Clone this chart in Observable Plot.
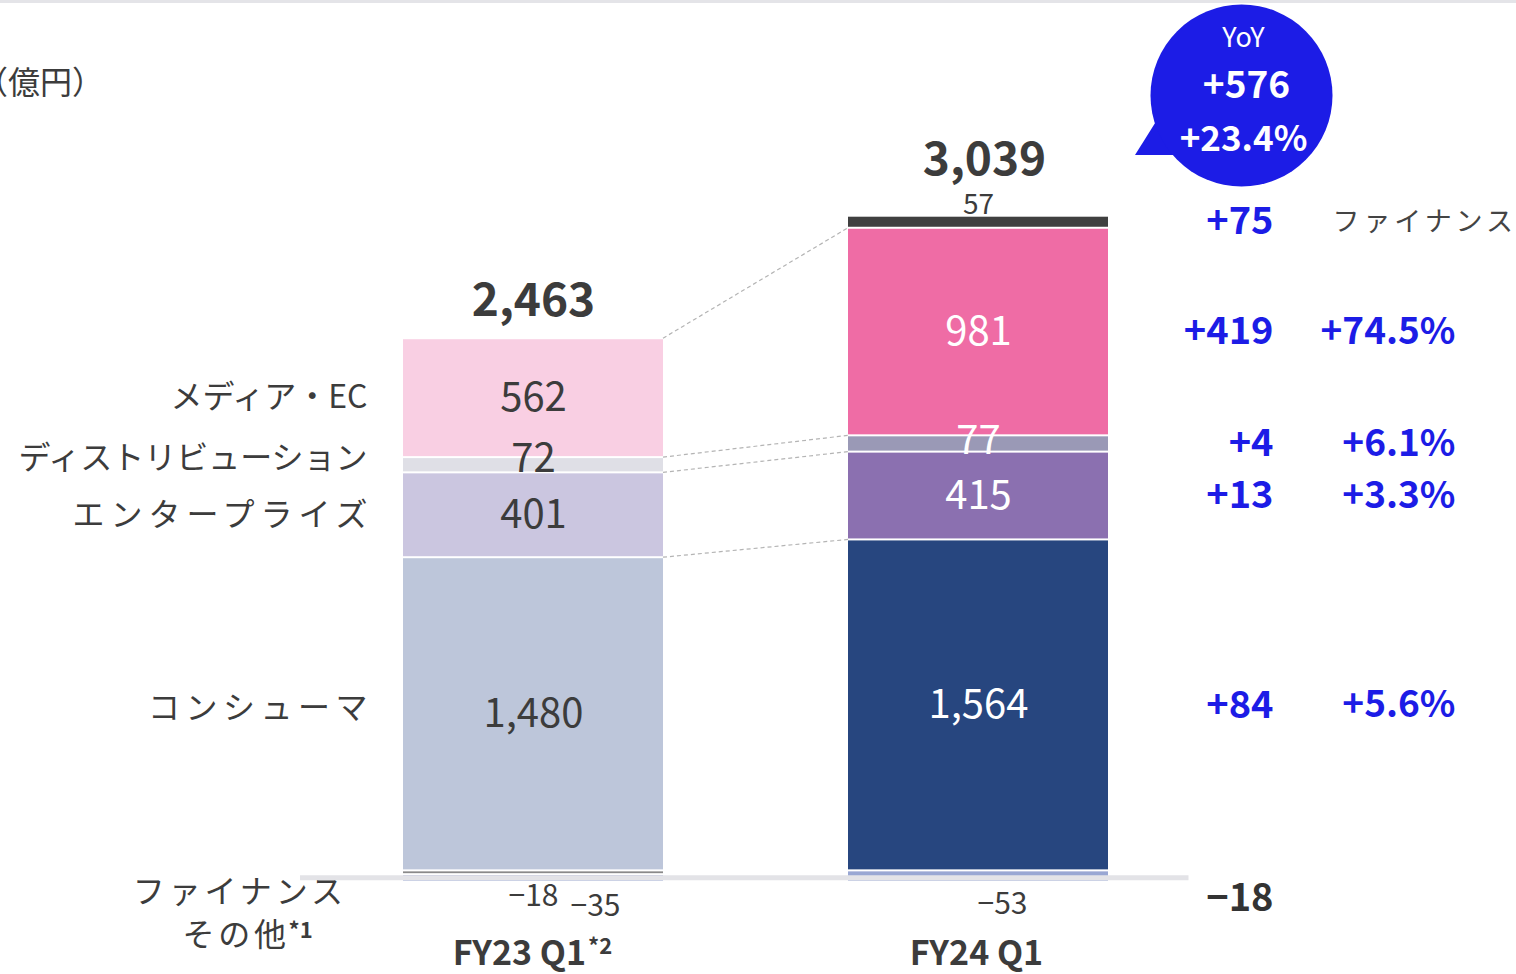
<!DOCTYPE html>
<html>
<head>
<meta charset="utf-8">
<script src="https://cdn.jsdelivr.net/npm/d3@7"></script>
<script src="https://cdn.jsdelivr.net/npm/@observablehq/plot@0.6"></script>
<style>
  html, body { margin: 0; padding: 0; background: #fff; }
  #wrap { position: relative; width: 1516px; height: 974px; overflow: hidden; font-family: 'Noto Sans CJK JP', 'Noto Sans', sans-serif; }
  #topline { position: absolute; left: 0; top: 0; width: 1516px; height: 3px; background: #e4e4e8; }
  #unit { position: absolute; left: -24px; top: 59px; font-size: 32px; line-height: 42px; color: #3c3c3c; white-space: nowrap; }
  #chart { position: absolute; left: 0; top: 0; }
</style>
</head>
<body>
<div id="wrap">
  <div id="topline"></div>
  <div id="unit"></div>
  <div id="chart"></div>
</div>
<script>
// ---------------- data ----------------
const unitLabel = "（億円）";
const periods = ["FY23 Q1", "FY24 Q1"];
const periodNotes = ["*2", ""];
const segments = ["コンシューマ", "エンタープライズ", "ディストリビューション", "メディア・EC", "ファイナンス", "その他"];
const otherNote = "*1";
const fy23 = [1480, 401, 72, 562, -18, -35];
const fy24 = [1564, 415, 77, 981, 57, -53];
const totals = [2463, 3039];
const yoyDiff = ["+84", "+13", "+4", "+419", "+75", "−18"];
const yoyPct = ["+5.6%", "+3.3%", "+6.1%", "+74.5%", "", ""];
const yoyTotal = ["YoY", "+576", "+23.4%"];

// ---------------- styles ----------------
const fill23 = ["#bdc6da", "#cbc6e0", "#dfdfe6", "#f9cfe3", "#8a8a8a", "#99a7d3"];
const fill24 = ["#27467f", "#8b70b0", "#9a99b6", "#ef6ca5", "#404040", "#99a7d3"];
const blue = "#1c1ce6";
const dark = "#3c3c3c";
const font = "'Noto Sans CJK JP', 'Noto Sans', sans-serif";
const letterSpacing = new Map([[segments[0], 5.5], [segments[1], 6], [segments[4], 3.9], [segments[5], 3.7]]);

document.getElementById("unit").textContent = unitLabel;

const series = [fy23, fy24];
const rows = periods.flatMap((p, i) => segments.map((s, j) => ({period: p, pi: i, si: j, segment: s, value: series[i][j]})));
const tops = series.map(v => d3.sum(v.filter(d => d > 0)));
const totalRows = periods.map((p, i) => ({period: p, pi: i, top: tops[i], label: d3.format(",")(totals[i])}));
const baseRows = periods.map((p, i) => ({period: p, pi: i, base: 0, label: p, note: periodNotes[i]}));
const fmt = d3.format(",");

const S = {x: "period", y: "value"};

// custom mark: dashed connectors between bars + bubble tail (uses the plot's own scales)
function overlay(...args) {
  const sc = args.find(a => a && typeof a.x === "function" && typeof a.y === "function");
  const x = sc.x, y = sc.y;
  const bw = typeof x.bandwidth === "function" ? x.bandwidth() : x.bandwidth;
  const g = d3.create("svg:g");
  const c23 = d3.cumsum(fy23.slice(0, 4));
  const c24 = d3.cumsum(fy24.slice(0, 4));
  const xa = x(periods[0]) + bw, xb = x(periods[1]);
  for (let k = 0; k < 4; k++) {
    g.append("line")
      .attr("x1", xa).attr("y1", y(c23[k]))
      .attr("x2", xb).attr("y2", y(c24[k]))
      .attr("stroke", "#b4b4b4").attr("stroke-width", 1.2)
      .attr("stroke-dasharray", "4 3");
  }
  // bubble tail anchored to FY24 top
  const ax = x(periods[1]) + bw / 2, ay = y(tops[1]);
  g.append("path")
    .attr("d", `M${ax + 157},${ay - 60.7}L${ax + 184},${ay - 103.7}L${ax + 212},${ay - 60.7}Z`)
    .attr("fill", blue);
  return g.node();
}

const isDist = d => d.si === 2;

const chart = Plot.plot({
  width: 1516,
  height: 974,
  marginLeft: 403,
  marginRight: 407.5,
  marginTop: 24,
  marginBottom: 19,
  style: {fontFamily: font, fontSize: "16px", color: dark, background: "transparent", overflow: "visible"},
  x: {type: "band", domain: periods, paddingInner: 0.4164, paddingOuter: 0, axis: null},
  y: {domain: [-400, 4000], axis: null},
  color: {type: "identity"},
  marks: [
    // stacked bars
    Plot.barY(rows, Plot.stackY({...S, fill: d => (d.pi ? fill24 : fill23)[d.si], insetTop: 1, insetBottom: 1})),
    // zero axis line
    Plot.ruleY([0], {stroke: "#e3e3e7", strokeWidth: 5, dy: 7, insetLeft: -103, insetRight: -80}),
    // connectors + tail
    overlay,
    // segment values inside bars
    Plot.text(rows, Plot.stackY({...S, text: d => d.si < 4 && !isDist(d) ? fmt(d.value) : null,
      fill: d => d.pi ? "#ffffff" : dark, fontSize: 40})),
    Plot.text(rows, Plot.stackY({...S, text: d => d.pi === 0 && isDist(d) ? fmt(d.value) : null,
      dy: -6, fill: dark, fontSize: 40})),
    Plot.text(rows, Plot.stackY({...S, text: d => d.pi === 1 && isDist(d) ? fmt(d.value) : null,
      dy: -3, fill: "#ffffff", fontSize: 40})),
    // left category labels (at FY23 segment mids)
    Plot.text(rows, Plot.stackY({...S, text: d => d.pi === 0 && d.si === 3 ? d.segment : null,
      dx: -166, textAnchor: "end", fontSize: 32, fill: dark})),
    Plot.text(rows, Plot.stackY({...S, text: d => d.pi === 0 && d.si === 2 ? d.segment : null,
      dx: -166, dy: -6, textAnchor: "end", fontSize: 32, fill: dark})),
    Plot.text(rows, Plot.stackY({...S, text: d => d.pi === 0 && d.si === 1 ? d.segment : null,
      dx: -160, textAnchor: "end", fontSize: 32, fill: dark})),
    Plot.text(rows, Plot.stackY({...S, text: d => d.pi === 0 && d.si === 0 ? d.segment : null,
      dx: -160.5, dy: -6, textAnchor: "end", fontSize: 32, fill: dark})),
    // bottom-left labels for finance / other
    Plot.text(rows, Plot.stackY({...S, text: d => d.pi === 0 && d.si === 4 ? d.segment : null,
      dx: -186.6, dy: 20, textAnchor: "end", fontSize: 32, fill: dark})),
    Plot.text(rows, Plot.stackY({...S, text: d => d.pi === 0 && d.si === 5 ? d.segment : null,
      dx: -243.8, dy: 57, textAnchor: "end", fontSize: 32, fill: dark})),
    Plot.text(rows, Plot.stackY({...S, text: d => d.pi === 0 && d.si === 5 ? otherNote : null,
      dx: -245, dy: 53, textAnchor: "start", fontSize: 22, fontWeight: "bold", fill: dark})),
    // negative values
    Plot.text(rows, Plot.stackY({...S, text: d => d.pi === 0 && d.si === 4 ? fmt(d.value) : null,
      dy: 24, fontSize: 30, fill: dark})),
    Plot.text(rows, Plot.stackY({...S, text: d => d.pi === 0 && d.si === 5 ? fmt(d.value) : null,
      dx: 62, dy: 28, fontSize: 30, fill: dark})),
    Plot.text(rows, Plot.stackY({...S, text: d => d.pi === 1 && d.si === 5 ? fmt(d.value) : null,
      dx: 24, dy: 27.5, fontSize: 30, fill: dark})),
    // finance positive value above FY24 bar
    Plot.text(rows, Plot.stackY2({...S, text: d => d.pi === 1 && d.si === 4 ? fmt(d.value) : null,
      dy: -11, fontSize: 28, fill: dark})),
    // totals
    Plot.text(totalRows.filter(d => d.pi === 0), {x: "period", y: "top", text: "label", dy: -37, fontSize: 46, fontWeight: "bold", fill: dark}),
    Plot.text(totalRows.filter(d => d.pi === 1), {x: "period", y: "top", text: "label", dx: 6, dy: -56, fontSize: 46, fontWeight: "bold", fill: dark}),
    // period labels
    Plot.text(baseRows.filter(d => d.pi === 0), {x: "period", y: "base", text: "label", dx: 52.5, dy: 83, textAnchor: "end", fontSize: 34, fontWeight: "bold", fill: dark}),
    Plot.text(baseRows.filter(d => d.pi === 0), {x: "period", y: "base", text: "note", dx: 54.5, dy: 76, textAnchor: "start", fontSize: 22, fontWeight: "bold", fill: dark}),
    Plot.text(baseRows.filter(d => d.pi === 1), {x: "period", y: "base", text: "label", dx: -2, dy: 83, fontSize: 34, fontWeight: "bold", fill: dark}),
    // YoY differences
    Plot.text(rows, Plot.stackY({...S, text: d => d.pi === 1 && d.si < 5 ? yoyDiff[d.si] : null,
      dx: 295, textAnchor: "end", fontSize: 38, fontWeight: "bold", fill: blue})),
    Plot.text(rows, Plot.stackY({...S, text: d => d.pi === 1 && d.si === 5 ? yoyDiff[d.si] : null,
      dx: 295, dy: 22, textAnchor: "end", fontSize: 38, fontWeight: "bold", fill: "#333333"})),
    // YoY percents
    Plot.text(rows, Plot.stackY({...S, text: d => d.pi === 1 && yoyPct[d.si] ? yoyPct[d.si] : null,
      dx: 477, textAnchor: "end", fontSize: 37, fontWeight: "bold", fill: blue})),
    Plot.text(rows, Plot.stackY({...S, text: d => d.pi === 1 && d.si === 4 ? d.segment : null,
      dx: 354, textAnchor: "start", fontSize: 27, fill: "#444444"})),
    // YoY bubble
    Plot.dot(totalRows.filter(d => d.pi === 1), {x: "period", y: "top", r: 91, fill: blue, dx: 263, dy: -120.7}),
    Plot.text(totalRows.filter(d => d.pi === 1), {x: "period", y: "top", text: () => yoyTotal[0], dx: 265, dy: -177.7, fontSize: 27, fill: "#ffffff"}),
    Plot.text(totalRows.filter(d => d.pi === 1), {x: "period", y: "top", text: () => yoyTotal[1], dx: 268, dy: -129.7, fontSize: 37, fontWeight: "bold", fill: "#ffffff"}),
    Plot.text(totalRows.filter(d => d.pi === 1), {x: "period", y: "top", text: () => yoyTotal[2], dx: 265, dy: -76.7, fontSize: 35, fontWeight: "bold", fill: "#ffffff"})
  ]
});
// letter spacing for some Japanese labels (styling only)
d3.select(chart).selectAll("text").each(function() {
  const ls = letterSpacing.get(this.textContent);
  if (ls != null) this.setAttribute("letter-spacing", ls);
});
document.getElementById("chart").appendChild(chart);
</script>
</body>
</html>
